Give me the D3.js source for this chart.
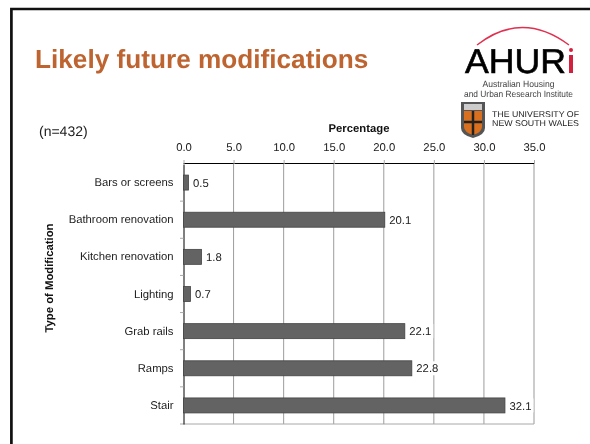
<!DOCTYPE html>
<html><head><meta charset="utf-8">
<script src="https://cdn.jsdelivr.net/npm/d3@7"></script>
<style>html,body{margin:0;padding:0;background:#fff;overflow:hidden}svg{display:block;filter:blur(0.3px)}text{font-family:"Liberation Sans",Arial,sans-serif;text-rendering:geometricPrecision}</style>
</head><body><svg id="c" width="590" height="444"></svg>
<script>
const categories=["Bars or screens","Bathroom renovation","Kitchen renovation","Lighting","Grab rails","Ramps","Stair"];
const values=[0.5,20.1,1.8,0.7,22.1,22.8,32.1];
const tickValues=[0,5,10,15,20,25,30,35];
const svg=d3.select("#c");
svg.append("path").attr("d","M11.4 600V9H700").attr("fill","none").attr("stroke","#111").attr("stroke-width",2.7);
const x=d3.scaleLinear().domain([0,35]).range([183.5,534]);
const y=d3.scaleBand().domain(categories).range([164,424]);
const g=svg.append("g");
g.append("g").selectAll("line").data(tickValues.slice(1,-1)).join("line")
 .attr("x1",d=>x(d)).attr("x2",d=>x(d)).attr("y1",164).attr("y2",424)
 .attr("stroke","#9c9c9c").attr("stroke-width",1);
g.append("path").attr("d",`M${x(35)} 164V424`).attr("fill","none").attr("stroke","#999");
g.append("path").attr("d",`M180 424H${x(35)}`).attr("stroke","#a8a8a8").attr("fill","none");
g.append("path").attr("d",`M${x(0)} 163.5H${x(35)}`).attr("stroke","#000").attr("fill","none");
const axisX=d3.axisTop(x).tickValues(tickValues).tickFormat(d3.format(".1f")).tickSize(4).tickPadding(9);
const ax=g.append("g").attr("transform","translate(0,164)").call(axisX);
ax.select(".domain").remove();
ax.selectAll("line").attr("stroke","#aaa");
ax.selectAll("text").attr("font-size",11.3).attr("fill","#222");
const axisY=d3.axisLeft(y).tickSize(0).tickPadding(10);
const ay=g.append("g").attr("transform","translate(183.5,0)").call(axisY);
ay.select(".domain").attr("stroke","#000").attr("stroke-width",1);
ay.selectAll("text").attr("font-size",11.3).attr("fill","#222");
g.append("g").selectAll("line").data(categories.slice(1)).join("line")
 .attr("x1",180).attr("x2",183.5).attr("y1",d=>y(d)).attr("y2",d=>y(d)).attr("stroke","#aaa");
const barH=15;
g.append("g").selectAll("rect").data(values).join("rect")
 .attr("x",x(0)).attr("width",d=>x(d)-x(0))
 .attr("y",(d,i)=>y(categories[i])+y.bandwidth()/2-barH/2).attr("height",barH)
 .attr("fill","#636363").attr("stroke","#444").attr("stroke-width",.8);
const lab=g.append("g").selectAll("g").data(values).join("g")
 .attr("transform",(d,i)=>`translate(${x(d)+3.5},${y(categories[i])+y.bandwidth()/2})`);
lab.append("rect").attr("x",0).attr("y",-7).attr("width",d=>d<10?18:25).attr("height",14).attr("fill","#fff");
lab.append("text").attr("x",1).attr("dy","0.36em").attr("font-size",11.3).attr("fill","#222").text(d=>d.toFixed(1));
svg.append("text").attr("x",359).attr("y",132).attr("text-anchor","middle").attr("font-size",11.3).attr("font-weight","bold").attr("fill","#111").text("Percentage");
svg.append("text").attr("transform","translate(53,278) rotate(-90)").attr("y",0).attr("text-anchor","middle").attr("font-size",11.3).attr("font-weight","bold").attr("fill","#111").text("Type of Modification");
svg.append("text").attr("x",35).attr("y",67.5).attr("font-size",26.2).attr("font-weight","bold").attr("fill","#bd6430").text("Likely future modifications");
svg.append("text").attr("x",39).attr("y",136).attr("font-size",14).attr("fill","#222").text("(n=432)");
const logo=svg.append("g");
logo.append("path").attr("d","M477 45Q522 10 569 45").attr("fill","none").attr("stroke","#e0304f").attr("stroke-width",1.5);
logo.append("text").attr("x",465).attr("y",73).attr("font-size",34.5).attr("textLength",101).attr("lengthAdjust","spacingAndGlyphs").attr("fill","#000").attr("stroke","#000").attr("stroke-width",0.6).text("AHUR");
logo.append("rect").attr("x",569).attr("y",55).attr("width",4).attr("height",18).attr("fill","#d4203f");
logo.append("circle").attr("cx",571).attr("cy",50).attr("r",2).attr("fill","#d4203f");
logo.append("text").attr("x",518.5).attr("y",87).attr("text-anchor","middle").attr("font-size",9).attr("textLength",72).attr("lengthAdjust","spacingAndGlyphs").attr("fill","#444").text("Australian Housing");
logo.append("text").attr("x",518.5).attr("y",97).attr("text-anchor","middle").attr("font-size",9).attr("textLength",109).attr("lengthAdjust","spacingAndGlyphs").attr("fill","#444").text("and Urban Research Institute");
logo.append("text").attr("x",492).attr("y",117).attr("font-size",8.5).attr("font-family","Liberation Serif").attr("textLength",87).attr("lengthAdjust","spacingAndGlyphs").attr("fill","#222").text("THE UNIVERSITY OF");
logo.append("text").attr("x",492).attr("y",125.5).attr("font-size",8.5).attr("font-family","Liberation Serif").attr("textLength",87).attr("lengthAdjust","spacingAndGlyphs").attr("fill","#222").text("NEW SOUTH WALES");
logo.append("path").attr("d","M461 102H485V128Q485 135 473 138Q461 135 461 128Z").attr("fill","#555");
logo.append("rect").attr("x",464).attr("y",104).attr("width",18).attr("height",6).attr("fill","#ccc");
logo.append("path").attr("d","M464 111H482V127Q482 132 473 135Q464 132 464 127Z").attr("fill","#d9701f");
logo.append("path").attr("d","M473 111V135M464 122H482").attr("stroke","#222").attr("stroke-width",2.5);
</script></body></html>
